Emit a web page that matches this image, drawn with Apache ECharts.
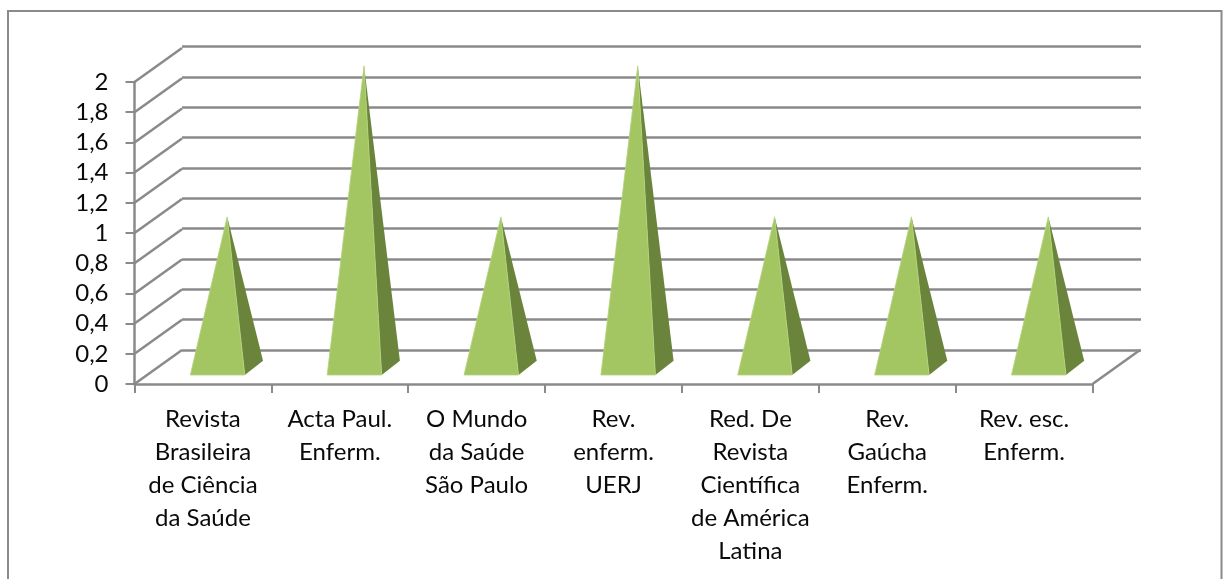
<!DOCTYPE html>
<html><head><meta charset="utf-8">
<style>html,body{margin:0;padding:0;background:#fff}#c{width:1223px;height:579px}</style>
<script src="https://cdn.jsdelivr.net/npm/echarts@6/dist/echarts.min.js"></script>
</head><body><div id="c"></div>
<script>
const categories = ['Revista\nBrasileira\nde Ciência\nda Saúde','Acta Paul.\nEnferm.','O Mundo\nda Saúde\nSão Paulo','Rev.\nenferm.\nUERJ','Red. De\nRevista\nCientífica\nde América\nLatina','Rev.\nGaúcha\nEnferm.','Rev. esc.\nEnferm.'];
const values = [1,2,1,2,1,1,1];
const yTicks = [0,0.2,0.4,0.6,0.8,1,1.2,1.4,1.6,1.8,2];
const GRID='#8A8A8A', FRONT='#A3C662', SIDE='#6B843C', EDGE='#B4D37C', FONT='Lato';
const LW=2.5, DX=47.5, DY=-34;
const chart = echarts.init(document.getElementById('c'),null,{renderer:'canvas'});
chart.setOption({
  animation:false,
  backgroundColor:'#fff',
  textStyle:{fontFamily:FONT},
  graphic:[{type:'rect',silent:true,z:-10,shape:{x:8,y:11,width:1213.5,height:620},style:{fill:'none',stroke:GRID,lineWidth:2}}],
  grid:[
    {left:134.5,top:82,width:958,height:302},
    {left:182,top:46.5,width:959,height:303.5}
  ],
  xAxis:[
    {type:'category',gridIndex:0,data:categories,boundaryGap:true,
     axisLine:{show:true,lineStyle:{color:GRID,width:LW}},
     axisTick:{show:true,length:9,alignWithLabel:false,lineStyle:{color:GRID,width:2}},
     axisLabel:{interval:0,color:'#0a0a0a',fontFamily:FONT,fontSize:24,lineHeight:33,margin:19,verticalAlign:'top'},
     splitLine:{show:false}},
    {type:'category',gridIndex:1,data:categories,show:false}
  ],
  yAxis:[
    {type:'value',gridIndex:0,min:0,max:2,interval:0.2,
     axisLine:{show:true,lineStyle:{color:GRID,width:LW}},
     axisTick:{show:true,length:9,lineStyle:{color:GRID,width:2}},
     axisLabel:{color:'#0a0a0a',fontFamily:FONT,fontSize:24,margin:26,padding:[3,0,0,0],
       formatter:v=>String(Math.round(v*10)/10).replace('.',',')},
     splitLine:{show:false}},
    {type:'value',gridIndex:1,min:0,max:2,interval:0.2,
     axisLine:{show:false},axisTick:{show:false},axisLabel:{show:false},
     splitLine:{show:true,lineStyle:{color:GRID,width:LW}}}
  ],
  series:[
    {type:'custom',xAxisIndex:0,yAxisIndex:0,silent:true,z:1,clip:false,
     data:yTicks.map(v=>[0,v]),
     renderItem(p,api){
       const c=api.coord([0,api.value(1)]);
       const x=c[0]-api.size([1,0])[0]/2;
       return {type:'line',shape:{x1:x,y1:c[1],x2:x+DX,y2:c[1]+DY},style:{stroke:GRID,lineWidth:LW,fill:'none'}};
     }},
    {type:'custom',xAxisIndex:0,yAxisIndex:0,silent:true,z:1,clip:false,
     data:[[categories.length-1,0]],
     renderItem(p,api){
       const c=api.coord([api.value(0),0]);
       const x=c[0]+api.size([1,0])[0]/2;
       return {type:'line',shape:{x1:x,y1:c[1],x2:x+DX,y2:c[1]+DY},style:{stroke:GRID,lineWidth:LW,fill:'none'}};
     }},
    {type:'custom',name:'Série',xAxisIndex:0,yAxisIndex:0,silent:true,z:5,clip:false,
     data:values.map((v,i)=>[i,v]),
     renderItem(p,api){
       const c=api.coord([api.value(0),0]);
       const h=api.size([0,api.value(1)])[1];
       const fy=c[1]-9, fl=c[0]-12.6, fr=fl+54.5;
       const bx=fr+18.2, by=fy-14.3;
       const ax=(fl+bx)/2+0.5, ay=(fy+by)/2-h;
       return {type:'group',children:[
         {type:'polygon',shape:{points:[[fr,fy],[bx,by],[ax,ay]]},style:{fill:SIDE}},
         {type:'polygon',shape:{points:[[fl,fy],[fr,fy],[ax,ay]]},style:{fill:FRONT,stroke:EDGE,lineWidth:0.8}}
       ]};
     }}
  ]
});
</script></body></html>
